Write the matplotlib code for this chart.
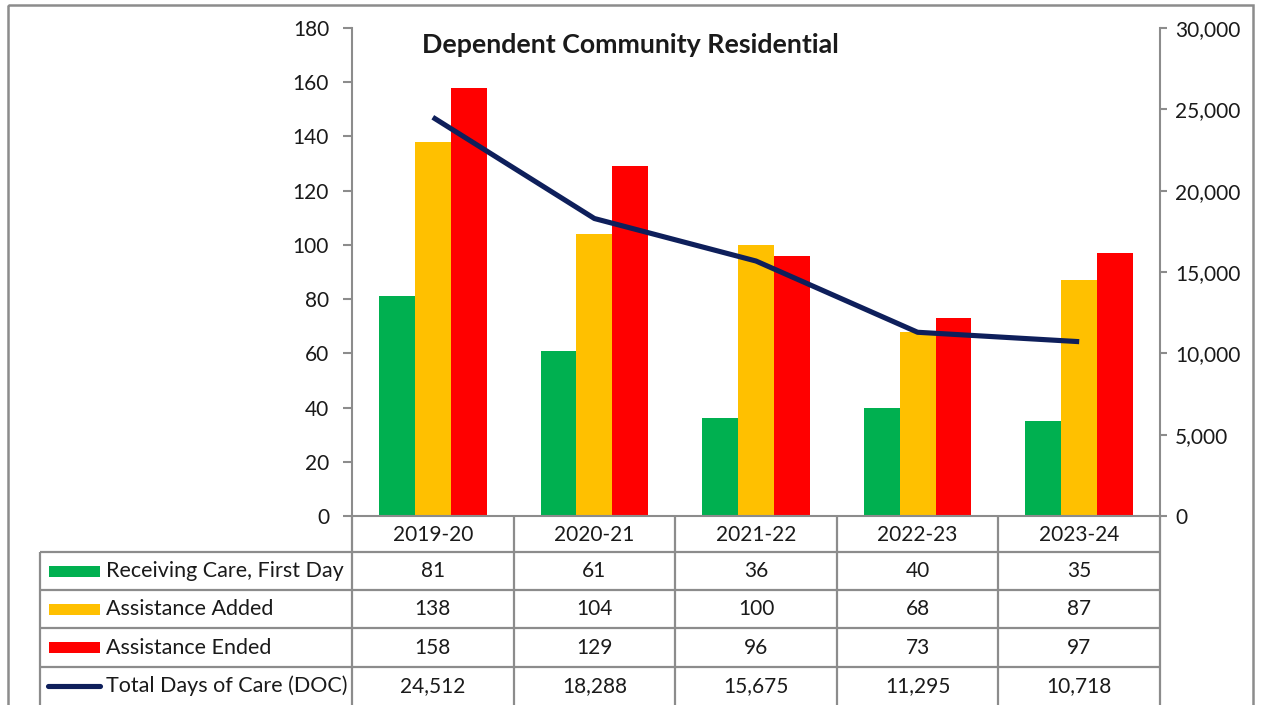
import matplotlib
matplotlib.use("Agg")
import matplotlib.pyplot as plt
from matplotlib.patches import Rectangle
from matplotlib.lines import Line2D

plt.rcParams['font.family'] = ['Lato', 'DejaVu Sans']

categories = ["2019-20", "2020-21", "2021-22", "2022-23", "2023-24"]
receiving_first_day = [81, 61, 36, 40, 35]
assistance_added = [138, 104, 100, 68, 87]
assistance_ended = [158, 129, 96, 73, 97]
total_doc = [24512, 18288, 15675, 11295, 10718]
series_names = ["Receiving Care, First Day", "Assistance Added", "Assistance Ended",
                "Total Days of Care (DOC)"]
left_ticks = [0, 20, 40, 60, 80, 100, 120, 140, 160, 180]
right_ticks = [0, 5000, 10000, 15000, 20000, 25000, 30000]

GREEN = "#00B050"
YELLOW = "#FFC000"
RED = "#FF0000"
NAVY = "#0E1F5B"
GRAY = "#8C8C8C"
TXT = "#1a1a1a"
FS = 15
FS_LABEL = 15.5

W, H = 1261, 705
fig = plt.figure(figsize=(W / 100, H / 100), dpi=100)

def fx(x):
    return x / W

def fy(y):
    return 1 - y / H

# plot area in pixel coordinates
PL, PR, PT, PB = 352, 1160, 28, 516
ax = fig.add_axes([fx(PL), fy(PB), fx(PR) - fx(PL), fy(PT) - fy(PB)])
ax2 = ax.twinx()

n = len(categories)
xs = list(range(n))
bw = 0.222
ax.bar([x - bw for x in xs], receiving_first_day, width=bw, color=GREEN, zorder=2)
ax.bar(xs, assistance_added, width=bw, color=YELLOW, zorder=2)
ax.bar([x + bw for x in xs], assistance_ended, width=bw, color=RED, zorder=2)

ax2.plot(xs, total_doc, color=NAVY, lw=3.7, solid_capstyle='butt', zorder=3)

ax.set_xlim(-0.5, n - 0.5)
ax.set_ylim(0, 180)
ax2.set_ylim(0, 30000)
ax.set_yticks(left_ticks)
ax.set_yticklabels([str(t) for t in left_ticks])
ax2.set_yticks(right_ticks)
ax2.set_yticklabels([f"{t:,}" for t in right_ticks])
ax.set_xticks([])

for a in (ax, ax2):
    a.spines['top'].set_visible(False)
    for s in a.spines.values():
        s.set_color(GRAY)
        s.set_linewidth(1.5)
    a.patch.set_visible(False)
ax2.spines['left'].set_visible(False)
ax2.spines['bottom'].set_visible(False)
ax.spines['right'].set_visible(False)
ax.tick_params(axis='y', length=6.5, width=1.5, color=GRAY, pad=10,
               labelsize=FS, labelcolor=TXT)
ax2.tick_params(axis='y', length=5, width=1.5, color=GRAY, pad=6,
                labelsize=FS, labelcolor=TXT)

# overlay axes for the data table and frame, pixel coordinates
tax = fig.add_axes([0, 0, 1, 1], zorder=-1)
tax.set_xlim(0, W)
tax.set_ylim(H, 0)
tax.axis('off')

tax.text(422, 45, "Dependent Community Residential", ha='left', va='center',
         fontsize=19.3, fontweight='bold', color=TXT)

tax.add_patch(Rectangle((8, 5), 1245, 720, fill=False, edgecolor=GRAY, lw=1.8))

col_edges = [PL + i * (PR - PL) / n for i in range(n + 1)]
row_edges = [PB, 552, 590, 628, 667, 705]
TL = 40
lkw = dict(color=GRAY, lw=1.6, solid_capstyle='butt')
for xe in col_edges:
    tax.add_line(Line2D([xe, xe], [PB, H + 5], **lkw))
tax.add_line(Line2D([TL, TL], [552, H + 5], **lkw))
for ye in row_edges[1:-1]:
    tax.add_line(Line2D([TL, PR], [ye, ye], **lkw))

for i, c in enumerate(categories):
    xc = (col_edges[i] + col_edges[i + 1]) / 2
    tax.text(xc, (row_edges[0] + row_edges[1]) / 2 + 1, c, ha='center', va='center',
             fontsize=FS, color=TXT)

rows = [receiving_first_day, assistance_added, assistance_ended, total_doc]
keys = [GREEN, YELLOW, RED, NAVY]
for r, (vals, name, kc) in enumerate(zip(rows, series_names, keys)):
    y0, y1 = row_edges[r + 1], row_edges[r + 2]
    yc = (y0 + y1) / 2
    if r < 3:
        tax.add_patch(Rectangle((49, yc - 5.5), 51, 11, color=kc, lw=0))
    else:
        tax.add_line(Line2D([48, 100], [yc, yc], color=kc, lw=3.7, solid_capstyle='round'))
    tax.text(106, yc, name, ha='left', va='center', fontsize=FS_LABEL, color=TXT)
    for i, v in enumerate(vals):
        xc = (col_edges[i] + col_edges[i + 1]) / 2
        tax.text(xc, yc, f"{v:,}", ha='center', va='center', fontsize=FS, color=TXT)

fig.savefig("out.png", dpi=100)
